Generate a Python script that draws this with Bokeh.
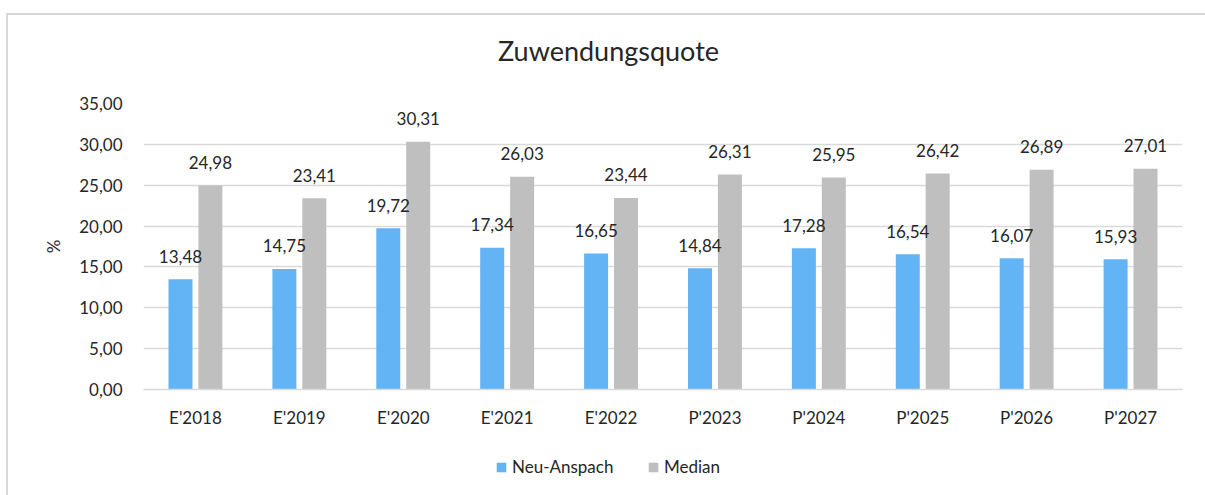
from bokeh.plotting import figure
from bokeh.models import (ColumnDataSource, FactorRange, Range1d, FixedTicker,
                          CustomJSTickFormatter, Legend, LegendItem, Label)
from bokeh.layouts import column
from bokeh.transform import dodge
from bokeh.core.properties import value
from bokeh.embed import file_html
from bokeh.resources import INLINE

categories = ["E'2018", "E'2019", "E'2020", "E'2021", "E'2022",
              "P'2023", "P'2024", "P'2025", "P'2026", "P'2027"]
neu_anspach = [13.48, 14.75, 19.72, 17.34, 16.65, 14.84, 17.28, 16.54, 16.07, 15.93]
median = [24.98, 23.41, 30.31, 26.03, 23.44, 26.31, 25.95, 26.42, 26.89, 27.01]
y_ticks = [0, 5, 10, 15, 20, 25, 30, 35]
series_names = ["Neu-Anspach", "Median"]
title_text = "Zuwendungsquote"
y_label = "%"

FONT = "Lato"
BLUE = "#63B4F5"
GRAY = "#BFBFBF"
GRID = "#D9D9D9"
TXT = "#262626"

def fmt(v):
    return f"{v:.2f}".replace(".", ",")

src = ColumnDataSource(dict(
    cat=categories,
    neu=neu_anspach,
    med=median,
    neu_lbl=[fmt(v) for v in neu_anspach],
    med_lbl=[fmt(v) for v in median],
))

W = 1197
HT, HM, HL = 70, 360, 50
BL, BR = 135, 23   # frame borders (all strips share the main frame's horizontal extent)


def plain(h):
    f = figure(width=W, height=h, output_backend="svg", toolbar_location=None,
               x_axis_type=None, y_axis_type=None,
               x_range=Range1d(BL, W - BR), y_range=Range1d(0, h),
               min_border=0, min_border_left=BL, min_border_right=BR)
    f.outline_line_color = None
    f.grid.grid_line_color = None
    f.border_fill_color = "white"
    f.background_fill_color = "white"
    return f


# ---- title strip
pt = plain(HT)
pt.add_layout(Label(x=600, y=35, text=title_text, text_align="center",
                    text_baseline="alphabetic", text_font=FONT,
                    text_font_size="27px", text_color=TXT))

# ---- main chart
p = figure(x_range=FactorRange(factors=categories, range_padding=0),
           y_range=Range1d(0, 35),
           width=W, height=HM, output_backend="svg", toolbar_location=None,
           min_border_left=BL, min_border_right=BR,
           min_border_top=18, min_border_bottom=56)
p.outline_line_color = None
p.background_fill_color = "white"
p.border_fill_color = "white"

off = 0.144
bw = 0.231
p.vbar(x=dodge("cat", -off, range=p.x_range), top="neu", width=bw, source=src,
       fill_color=BLUE, line_color=None)
p.vbar(x=dodge("cat", off, range=p.x_range), top="med", width=bw, source=src,
       fill_color=GRAY, line_color=None)

for xo, col, lbl in [(-off, "neu", "neu_lbl"), (off, "med", "med_lbl")]:
    p.text(x=dodge("cat", xo, range=p.x_range), y=col, text=lbl, source=src,
           text_align="center", text_baseline="alphabetic", y_offset=-23,
           text_font=value(FONT), text_font_size="17px", text_color=TXT)

p.yaxis.ticker = FixedTicker(ticks=y_ticks)
p.yaxis.formatter = CustomJSTickFormatter(code="return tick.toFixed(2).replace('.', ',');")
p.yaxis.axis_line_color = None
p.yaxis.major_tick_line_color = None
p.yaxis.minor_tick_line_color = None
p.yaxis.major_tick_out = 0
p.yaxis.major_tick_in = 0
p.yaxis.major_label_standoff = 21
p.yaxis.axis_label = y_label
p.yaxis.axis_label_standoff = 12
p.yaxis.axis_label_text_font_style = "normal"

p.xaxis.axis_line_color = GRID
p.xaxis.axis_line_width = 1.5
p.xaxis.major_tick_line_color = None
p.xaxis.minor_tick_line_color = None
p.xaxis.major_tick_out = 0
p.xaxis.major_tick_in = 0
p.xaxis.major_label_standoff = 17

for ax in (p.xaxis, p.yaxis):
    ax.major_label_text_font = FONT
    ax.major_label_text_font_size = "17px"
    ax.major_label_text_color = TXT
    ax.axis_label_text_font = FONT
    ax.axis_label_text_font_size = "17px"
    ax.axis_label_text_color = TXT

p.xgrid.grid_line_color = None
p.ygrid.grid_line_color = GRID
p.ygrid.grid_line_width = 1.5

# ---- legend strip (hidden renderers only supply the legend swatches)
pl = plain(HL)
g1 = pl.vbar(x="neu", top="neu", width=1, source=src, fill_color=BLUE,
             line_color=None, visible=False)
g2 = pl.vbar(x="med", top="med", width=1, source=src, fill_color=GRAY,
             line_color=None, visible=False)
lg = Legend(items=[LegendItem(label=series_names[0], renderers=[g1]),
                   LegendItem(label=series_names[1], renderers=[g2])],
            orientation="horizontal", location=(352, 18))
lg.glyph_width = 12
lg.glyph_height = 12
lg.label_text_font = FONT
lg.label_text_font_size = "17px"
lg.label_text_color = TXT
lg.label_standoff = 5
lg.label_width = 112
lg.spacing = 23
lg.padding = 0
lg.margin = 0
lg.border_line_color = None
lg.background_fill_alpha = 0
lg.inactive_fill_alpha = 0
pl.add_layout(lg)

layout = column(pt, p, pl, spacing=0)
layout.margin = (13, 0, 0, 6)
layout.styles = {"border-left": "2px solid #D9D9D9", "border-top": "2px solid #D9D9D9"}

open("out.html", "w").write(file_html(layout, INLINE))
